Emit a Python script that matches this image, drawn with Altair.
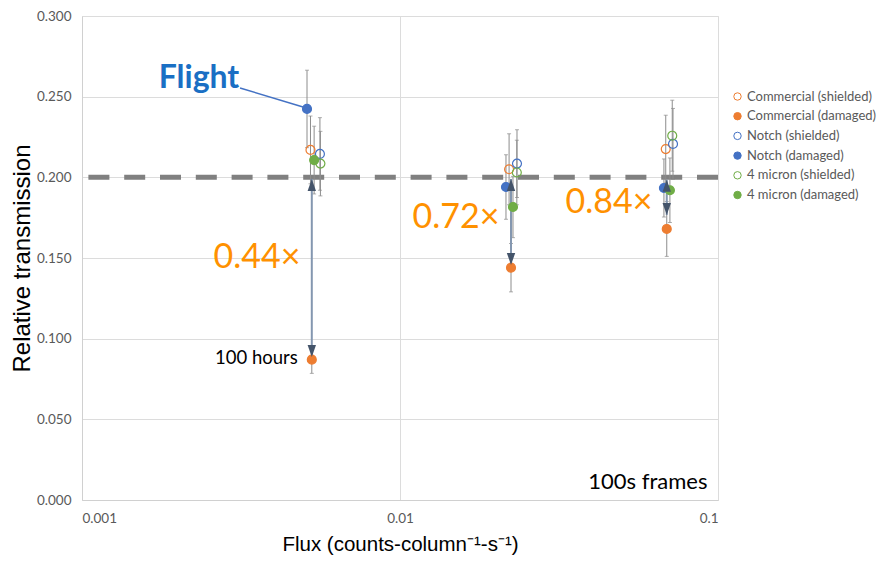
import altair as alt
import pandas as pd

# ---------------- data ----------------
series = ["Commercial (shielded)", "Commercial (damaged)", "Notch (shielded)",
          "Notch (damaged)", "4 micron (shielded)", "4 micron (damaged)"]
stroke_colors = ["#ED7D31", "#ED7D31", "#4472C4", "#4472C4", "#70AD47", "#70AD47"]
fill_colors = ["transparent", "#ED7D31", "transparent", "#4472C4", "transparent", "#70AD47"]

# flux (counts/column/s) for the three exposures, per series
flux_comm_sh = [0.00523, 0.02203, 0.0685]
flux_comm_dm = [0.00528, 0.02234, 0.0690]
flux_notch_sh = [0.00560, 0.02333, 0.0722]
flux_notch_dm = [0.00510, 0.02154, 0.0676]
flux_4u_sh = [0.00562, 0.02330, 0.0718]
flux_4u_dm = [0.00537, 0.02266, 0.0706]

# relative transmission
tr_comm_sh = [0.217, 0.205, 0.2175]
tr_comm_dm = [0.087, 0.144, 0.168]
tr_notch_sh = [0.2145, 0.2085, 0.2207]
tr_notch_dm = [0.2424, 0.194, 0.1934]
tr_4u_sh = [0.2085, 0.203, 0.2258]
tr_4u_dm = [0.2107, 0.1816, 0.192]

# error bar half-widths
err_comm_sh = [0.021, 0.022, 0.021]
err_comm_dm = [0.0085, 0.015, 0.017]
err_notch_sh = [0.0225, 0.021, 0.022]
err_notch_dm = [0.024, 0.02, 0.018]
err_4u_sh = [0.020, 0.02, 0.022]
err_4u_dm = [0.021, 0.019, 0.02]

reference_level = 0.2

# degradation arrows: x, start (at reference), end (damaged)
arrow_flux = [0.00528, 0.02234, 0.0690]
arrow_top = [0.1990, 0.1990, 0.1985]
arrow_bottom = [0.0886, 0.1457, 0.1767]
ratio_labels = ["0.44×", "0.72×", "0.84×"]
ratio_x = [0.00355, 0.0150, 0.0454]
ratio_y = [0.150, 0.1748, 0.1841]

all_flux = [flux_comm_sh, flux_comm_dm, flux_notch_sh, flux_notch_dm, flux_4u_sh, flux_4u_dm]
all_tr = [tr_comm_sh, tr_comm_dm, tr_notch_sh, tr_notch_dm, tr_4u_sh, tr_4u_dm]
all_err = [err_comm_sh, err_comm_dm, err_notch_sh, err_notch_dm, err_4u_sh, err_4u_dm]

rows = []
for s, fl, tr, er in zip(series, all_flux, all_tr, all_err):
    for f, t, e in zip(fl, tr, er):
        rows.append({"series": s, "x": f, "y": t, "lo": t - e, "hi": t + e})
df = pd.DataFrame(rows)

arrows = pd.DataFrame({"x": arrow_flux, "y": arrow_top, "y2": arrow_bottom})
ratios = pd.DataFrame({"x": ratio_x, "y": ratio_y, "t": ratio_labels})

# ---------------- scales / axes ----------------
FONT = "Lato"
xscale = alt.Scale(type="log", domain=[0.001, 0.1], nice=False)
yscale = alt.Scale(domain=[0, 0.3], nice=False)
xaxis = alt.Axis(values=[0.001, 0.01, 0.1], format="~g", ticks=False,
                 labelFont=FONT, labelFontSize=13.5, labelColor="#595959", labelPadding=11,
                 domainColor="#d0d0d0", gridColor="#dcdcdc", grid=True,
                 title="Flux (counts-column⁻¹-s⁻¹)", titleFont="Liberation Sans",
                 titleFontSize=20.5, titleFontWeight="normal", titleColor="#000000",
                 titleX=318, titleY=44, titleAnchor="middle", titleBaseline="middle")
yaxis = alt.Axis(values=[0, 0.05, 0.1, 0.15, 0.2, 0.25, 0.3], format=".3f", ticks=False,
                 labelFont=FONT, labelFontSize=13.5, labelColor="#595959", labelPadding=11,
                 domainColor="#d0d0d0", gridColor="#dcdcdc", grid=True,
                 title="Relative transmission", titleFont="Liberation Sans",
                 titleFontSize=24, titleFontWeight="normal", titleColor="#000000",
                 titleX=-60, titleY=242, titleAngle=-90, titleAnchor="middle",
                 titleBaseline="middle")


def X(field="x"):
    return alt.X(f"{field}:Q", scale=xscale, axis=xaxis)


def Y(field="y"):
    return alt.Y(f"{field}:Q", scale=yscale, axis=yaxis)


legend = alt.Legend(orient="none", legendX=649, legendY=74, title=None,
                    labelFont=FONT, labelFontSize=13, labelColor="#595959",
                    symbolSize=55, symbolStrokeWidth=1, rowPadding=5.7, labelOffset=3,
                    labelLimit=200)

# ---------------- layers ----------------
ref = alt.Chart(pd.DataFrame({"y": [reference_level]})).mark_rule(
    color="#808080", strokeWidth=5, strokeDash=[21, 14.8]
).encode(y=Y())

err_rule = alt.Chart(df).mark_rule(color="#8c8c8c", strokeWidth=1).encode(
    x=X(), y=Y("lo"), y2="hi:Q")
cap_lo = alt.Chart(df).mark_tick(color="#8c8c8c", thickness=1, size=4, orient="horizontal").encode(
    x=X(), y=Y("lo"))
cap_hi = alt.Chart(df).mark_tick(color="#8c8c8c", thickness=1, size=4, orient="horizontal").encode(
    x=X(), y=Y("hi"))

arrow_line = alt.Chart(arrows).mark_rule(color="#8497B0", strokeWidth=2).encode(
    x=X(), y=Y(), y2="y2:Q")

points = alt.Chart(df).mark_point(filled=False, size=80, strokeWidth=1.2, opacity=1).encode(
    x=X(), y=Y(),
    stroke=alt.Stroke("series:N", scale=alt.Scale(domain=series, range=stroke_colors), legend=legend),
    fill=alt.Fill("series:N", scale=alt.Scale(domain=series, range=fill_colors), legend=legend),
)

head_up = alt.Chart(arrows).mark_point(
    shape="M0,0L0.7,2L-0.7,2Z", size=144, filled=True, color="#44546A", opacity=1
).encode(x=X(), y=Y())
head_down = alt.Chart(arrows).mark_point(
    shape="M0,0L0.7,-2L-0.7,-2Z", size=144, filled=True, color="#44546A", opacity=1
).encode(x=X(), y=Y("y2"))

flight_line = alt.Chart(pd.DataFrame({"x": [0.00314], "y": [0.2554], "x2": [0.004955], "y2": [0.2436]})).mark_rule(
    color="#4472C4", strokeWidth=1.5).encode(x=X(), y=Y(), x2="x2:Q", y2="y2:Q")
flight_text = alt.Chart(pd.DataFrame({"x": [0.002333], "y": [0.2616], "t": ["Flight"]})).mark_text(
    font=FONT, fontSize=32, fontWeight="bold", color="#1A6FC4", align="center", baseline="middle"
).encode(x=X(), y=Y(), text="t:N")

ratio_text = alt.Chart(ratios).mark_text(
    font=FONT, fontSize=34, color="#FF9100", align="center", baseline="middle"
).encode(x=X(), y=Y(), text="t:N")

hours_text = alt.Chart(pd.DataFrame({"x": [0.003536], "y": [0.088], "t": ["100 hours"]})).mark_text(
    font=FONT, fontSize=18.5, color="#000000", align="center", baseline="middle"
).encode(x=X(), y=Y(), text="t:N")

frames_text = alt.Chart(pd.DataFrame({"x": [0.0602], "y": [0.0112], "t": ["100s frames"]})).mark_text(
    font=FONT, fontSize=22, color="#000000", align="center", baseline="middle"
).encode(x=X(), y=Y(), text="t:N")

chart = alt.layer(
    ref, err_rule, cap_lo, cap_hi, arrow_line, points, head_up, head_down,
    flight_line, flight_text, ratio_text, hours_text, frames_text
).properties(
    width=636, height=484,
    autosize=alt.AutoSizeParams(type="none"),
    padding={"left": 74, "top": 8, "right": 160, "bottom": 56},
).configure_view(stroke=None).configure(background="white")

chart.save("out.html", embed_options={"renderer": "svg", "actions": False})
